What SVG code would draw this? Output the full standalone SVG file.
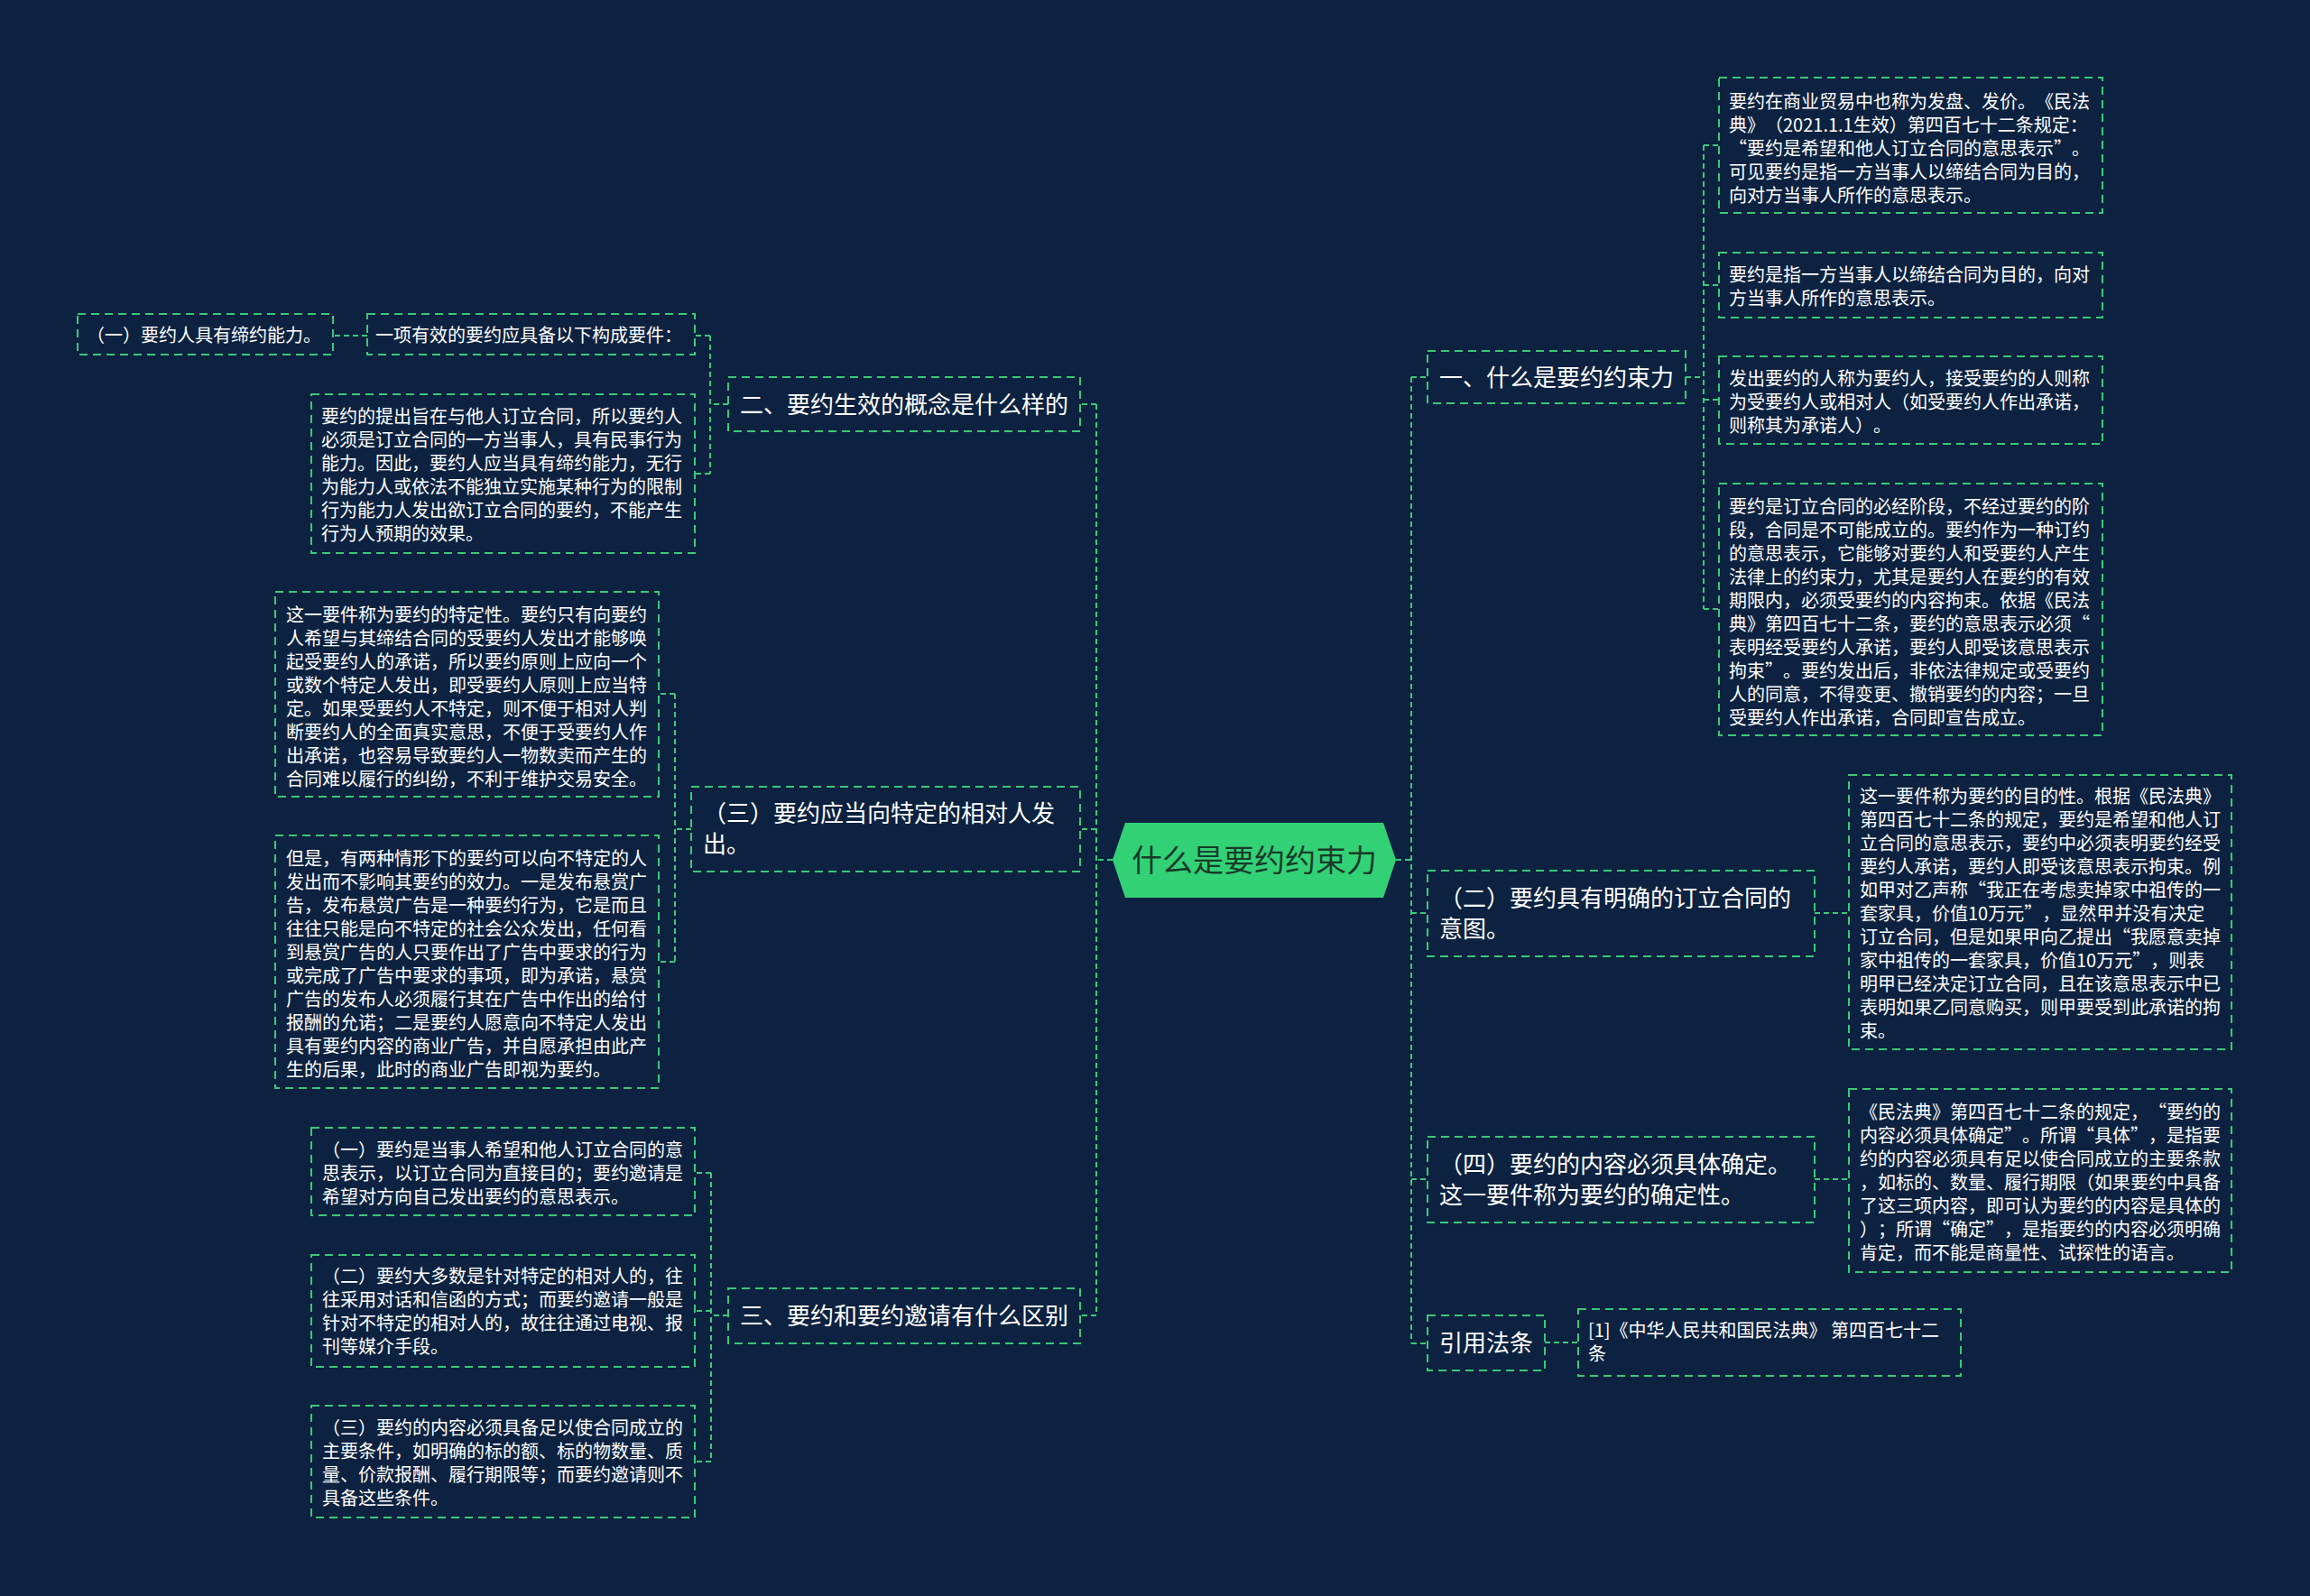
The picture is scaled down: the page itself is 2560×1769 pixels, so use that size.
<svg xmlns="http://www.w3.org/2000/svg" width="2560" height="1769" viewBox="0 0 2560 1769">
<style>
.bg{fill:#0d2240}
.box{fill:#0d2240;stroke:#3cc878;stroke-width:2;stroke-dasharray:9 6}
.ln{fill:none;stroke:#3cc878;stroke-width:2;stroke-dasharray:6 4}
text{text-spacing-trim:space-all}
.t20{font-family:"Noto Sans CJK SC","Noto Sans",sans-serif;font-size:20px;fill:#ffffff}
.t26{font-family:"Noto Sans CJK SC","Noto Sans",sans-serif;font-size:26px;fill:#ffffff}
.tc{font-family:"Noto Sans CJK SC","Noto Sans",sans-serif;font-size:34px;fill:#173a2a}
</style>
<rect class="bg" x="0" y="0" width="2560" height="1769"/>
<g id="connectors">
<path class="ln" d="M1547 953H1564M1564 418V1489M1564 418H1582M1564 1012H1582M1564 1307H1582M1564 1489H1582"/>
<path class="ln" d="M1233 953H1215M1215 448V1458M1215 448H1197M1215 919H1197M1215 1458H1197"/>
<path class="ln" d="M1868 418H1888M1888 161V675M1888 161H1905M1888 316H1905M1888 443H1905M1888 675H1905"/>
<path class="ln" d="M2011 1012H2049M2011 1307H2049M1712 1488H1749"/>
<path class="ln" d="M807 448H787M787 372V525M787 372H770M787 525H770M407 372H369"/>
<path class="ln" d="M766 919H748M748 769V1066M748 769H730M748 1066H730"/>
<path class="ln" d="M807 1458H788M788 1300V1620M788 1300H770M788 1453H770M788 1620H770"/>
</g>
<g id="center">
<polygon points="1233,953 1247,912 1533,912 1547,953 1533,995 1247,995" fill="#33d176"/>
<text class="tc" x="1390" y="966" text-anchor="middle">什么是要约约束力</text>
</g>
<g id="n1">
<rect class="box" x="1582" y="389" width="286" height="58"/>
<text class="t26" x="1595" y="428">一、什么是要约约束力</text>
</g>
<g id="n1a">
<rect class="box" x="1905" y="86" width="425" height="150"/>
<text class="t20"><tspan x="1916" y="120">要约在商业贸易中也称为发盘、发价。《民法</tspan><tspan x="1916" y="146">典》（2021.1.1生效）第四百七十二条规定：</tspan><tspan x="1916" y="172">“要约是希望和他人订立合同的意思表示”。</tspan><tspan x="1916" y="198">可见要约是指一方当事人以缔结合同为目的，</tspan><tspan x="1916" y="224">向对方当事人所作的意思表示。</tspan></text>
</g>
<g id="n1b">
<rect class="box" x="1905" y="280" width="425" height="72"/>
<text class="t20"><tspan x="1916" y="312">要约是指一方当事人以缔结合同为目的，向对</tspan><tspan x="1916" y="338">方当事人所作的意思表示。</tspan></text>
</g>
<g id="n1c">
<rect class="box" x="1905" y="395" width="425" height="97"/>
<text class="t20"><tspan x="1916" y="427">发出要约的人称为要约人，接受要约的人则称</tspan><tspan x="1916" y="453">为受要约人或相对人（如受要约人作出承诺，</tspan><tspan x="1916" y="479">则称其为承诺人）。</tspan></text>
</g>
<g id="n1d">
<rect class="box" x="1905" y="536" width="425" height="279"/>
<text class="t20"><tspan x="1916" y="569">要约是订立合同的必经阶段，不经过要约的阶</tspan><tspan x="1916" y="595">段，合同是不可能成立的。要约作为一种订约</tspan><tspan x="1916" y="621">的意思表示，它能够对要约人和受要约人产生</tspan><tspan x="1916" y="647">法律上的约束力，尤其是要约人在要约的有效</tspan><tspan x="1916" y="673">期限内，必须受要约的内容拘束。依据《民法</tspan><tspan x="1916" y="699">典》第四百七十二条，要约的意思表示必须“</tspan><tspan x="1916" y="725">表明经受要约人承诺，要约人即受该意思表示</tspan><tspan x="1916" y="751">拘束”。要约发出后，非依法律规定或受要约</tspan><tspan x="1916" y="777">人的同意，不得变更、撤销要约的内容；一旦</tspan><tspan x="1916" y="803">受要约人作出承诺，合同即宣告成立。</tspan></text>
</g>
<g id="n2">
<rect class="box" x="1582" y="965" width="429" height="95"/>
<text class="t26"><tspan x="1595" y="1005">（二）要约具有明确的订立合同的</tspan><tspan x="1595" y="1039">意图。</tspan></text>
</g>
<g id="n2a">
<rect class="box" x="2049" y="859" width="424" height="304"/>
<text class="t20"><tspan x="2061" y="890">这一要件称为要约的目的性。根据《民法典》</tspan><tspan x="2061" y="916">第四百七十二条的规定，要约是希望和他人订</tspan><tspan x="2061" y="942">立合同的意思表示，要约中必须表明要约经受</tspan><tspan x="2061" y="968">要约人承诺，要约人即受该意思表示拘束。例</tspan><tspan x="2061" y="994">如甲对乙声称“我正在考虑卖掉家中祖传的一</tspan><tspan x="2061" y="1020">套家具，价值10万元”，显然甲并没有决定</tspan><tspan x="2061" y="1046">订立合同，但是如果甲向乙提出“我愿意卖掉</tspan><tspan x="2061" y="1072">家中祖传的一套家具，价值10万元”，则表</tspan><tspan x="2061" y="1098">明甲已经决定订立合同，且在该意思表示中已</tspan><tspan x="2061" y="1124">表明如果乙同意购买，则甲要受到此承诺的拘</tspan><tspan x="2061" y="1150">束。</tspan></text>
</g>
<g id="n4">
<rect class="box" x="1582" y="1260" width="429" height="95"/>
<text class="t26"><tspan x="1595" y="1300">（四）要约的内容必须具体确定。</tspan><tspan x="1595" y="1334">这一要件称为要约的确定性。</tspan></text>
</g>
<g id="n4a">
<rect class="box" x="2049" y="1207" width="424" height="203"/>
<text class="t20"><tspan x="2061" y="1240">《民法典》第四百七十二条的规定，“要约的</tspan><tspan x="2061" y="1266">内容必须具体确定”。所谓“具体”，是指要</tspan><tspan x="2061" y="1292">约的内容必须具有足以使合同成立的主要条款</tspan><tspan x="2061" y="1318">，如标的、数量、履行期限（如果要约中具备</tspan><tspan x="2061" y="1344">了这三项内容，即可认为要约的内容是具体的</tspan><tspan x="2061" y="1370">）；所谓“确定”，是指要约的内容必须明确</tspan><tspan x="2061" y="1396">肯定，而不能是商量性、试探性的语言。</tspan></text>
</g>
<g id="n5">
<rect class="box" x="1582" y="1458" width="130" height="61"/>
<text class="t26" x="1595" y="1498">引用法条</text>
</g>
<g id="n5a">
<rect class="box" x="1749" y="1451" width="424" height="74"/>
<text class="t20"><tspan x="1760" y="1482">[1]《中华人民共和国民法典》 第四百七十二</tspan><tspan x="1760" y="1508">条</tspan></text>
</g>
<g id="l1">
<rect class="box" x="807" y="418" width="390" height="60"/>
<text class="t26" x="820" y="458">二、要约生效的概念是什么样的</text>
</g>
<g id="l1a">
<rect class="box" x="407" y="348" width="363" height="45"/>
<text class="t20" x="416" y="379">一项有效的要约应具备以下构成要件：</text>
</g>
<g id="l1a1">
<rect class="box" x="86" y="348" width="283" height="45"/>
<text class="t20" x="96" y="379">（一）要约人具有缔约能力。</text>
</g>
<g id="l1b">
<rect class="box" x="345" y="437" width="425" height="176"/>
<text class="t20"><tspan x="356" y="469">要约的提出旨在与他人订立合同，所以要约人</tspan><tspan x="356" y="495">必须是订立合同的一方当事人，具有民事行为</tspan><tspan x="356" y="521">能力。因此，要约人应当具有缔约能力，无行</tspan><tspan x="356" y="547">为能力人或依法不能独立实施某种行为的限制</tspan><tspan x="356" y="573">行为能力人发出欲订立合同的要约，不能产生</tspan><tspan x="356" y="599">行为人预期的效果。</tspan></text>
</g>
<g id="l2">
<rect class="box" x="766" y="872" width="431" height="94"/>
<text class="t26"><tspan x="779" y="911">（三）要约应当向特定的相对人发</tspan><tspan x="779" y="945">出。</tspan></text>
</g>
<g id="l2a">
<rect class="box" x="305" y="656" width="425" height="227"/>
<text class="t20"><tspan x="317" y="689">这一要件称为要约的特定性。要约只有向要约</tspan><tspan x="317" y="715">人希望与其缔结合同的受要约人发出才能够唤</tspan><tspan x="317" y="741">起受要约人的承诺，所以要约原则上应向一个</tspan><tspan x="317" y="767">或数个特定人发出，即受要约人原则上应当特</tspan><tspan x="317" y="793">定。如果受要约人不特定，则不便于相对人判</tspan><tspan x="317" y="819">断要约人的全面真实意思，不便于受要约人作</tspan><tspan x="317" y="845">出承诺，也容易导致要约人一物数卖而产生的</tspan><tspan x="317" y="871">合同难以履行的纠纷，不利于维护交易安全。</tspan></text>
</g>
<g id="l2b">
<rect class="box" x="305" y="926" width="425" height="280"/>
<text class="t20"><tspan x="317" y="959">但是，有两种情形下的要约可以向不特定的人</tspan><tspan x="317" y="985">发出而不影响其要约的效力。一是发布悬赏广</tspan><tspan x="317" y="1011">告，发布悬赏广告是一种要约行为，它是而且</tspan><tspan x="317" y="1037">往往只能是向不特定的社会公众发出，任何看</tspan><tspan x="317" y="1063">到悬赏广告的人只要作出了广告中要求的行为</tspan><tspan x="317" y="1089">或完成了广告中要求的事项，即为承诺，悬赏</tspan><tspan x="317" y="1115">广告的发布人必须履行其在广告中作出的给付</tspan><tspan x="317" y="1141">报酬的允诺；二是要约人愿意向不特定人发出</tspan><tspan x="317" y="1167">具有要约内容的商业广告，并自愿承担由此产</tspan><tspan x="317" y="1193">生的后果，此时的商业广告即视为要约。</tspan></text>
</g>
<g id="l3">
<rect class="box" x="807" y="1428" width="390" height="61"/>
<text class="t26" x="820" y="1468">三、要约和要约邀请有什么区别</text>
</g>
<g id="l3a">
<rect class="box" x="345" y="1250" width="425" height="97"/>
<text class="t20"><tspan x="357" y="1282">（一）要约是当事人希望和他人订立合同的意</tspan><tspan x="357" y="1308">思表示，以订立合同为直接目的；要约邀请是</tspan><tspan x="357" y="1334">希望对方向自己发出要约的意思表示。</tspan></text>
</g>
<g id="l3b">
<rect class="box" x="345" y="1391" width="425" height="124"/>
<text class="t20"><tspan x="357" y="1422">（二）要约大多数是针对特定的相对人的，往</tspan><tspan x="357" y="1448">往采用对话和信函的方式；而要约邀请一般是</tspan><tspan x="357" y="1474">针对不特定的相对人的，故往往通过电视、报</tspan><tspan x="357" y="1500">刊等媒介手段。</tspan></text>
</g>
<g id="l3c">
<rect class="box" x="345" y="1558" width="425" height="124"/>
<text class="t20"><tspan x="357" y="1590">（三）要约的内容必须具备足以使合同成立的</tspan><tspan x="357" y="1616">主要条件，如明确的标的额、标的物数量、质</tspan><tspan x="357" y="1642">量、价款报酬、履行期限等；而要约邀请则不</tspan><tspan x="357" y="1668">具备这些条件。</tspan></text>
</g>
</svg>
